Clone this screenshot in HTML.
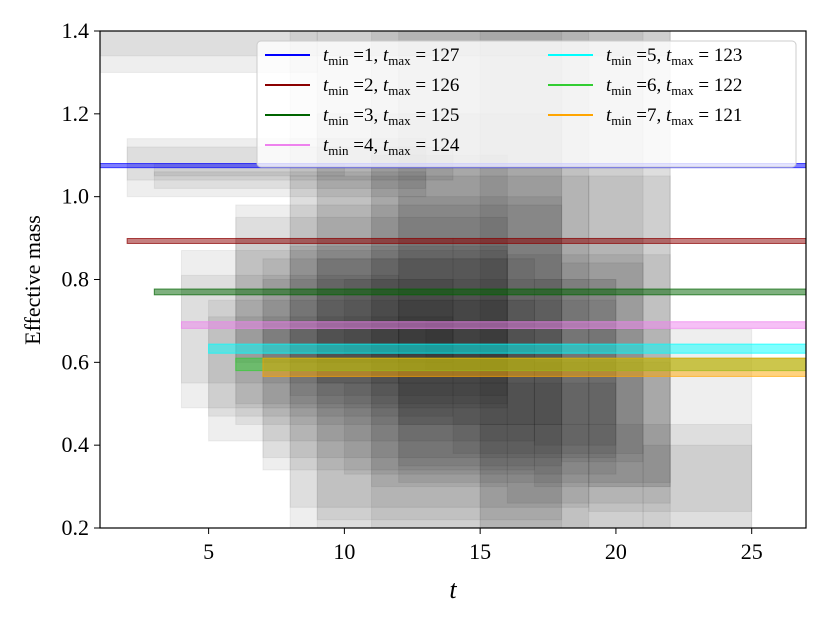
<!DOCTYPE html>
<html><head><meta charset="utf-8"><style>
html,body{margin:0;padding:0;background:#fff;}
svg{display:block;font-family:"Liberation Serif",serif;}
</style></head><body>
<svg id="chart" width="830" height="623" viewBox="0 0 830 623" xmlns="http://www.w3.org/2000/svg">
<defs><clipPath id="clip"><rect x="100" y="31" width="706" height="497"/></clipPath></defs>
<rect x="0" y="0" width="830" height="623" fill="#fff"/>
<g id="rects" clip-path="url(#clip)"></g>
<g id="bands" clip-path="url(#clip)"></g>
<rect x="100" y="31" width="706" height="497" fill="none" stroke="#000" stroke-width="1.2"/>
<g id="axes"></g>
<g id="legend"></g>
<text x="453" y="598" font-size="26" font-style="italic" text-anchor="middle">t</text>
<text transform="translate(40,280) rotate(-90)" font-size="22" text-anchor="middle">Effective mass</text>
</svg>
<script>
const xTicks=[5,10,15,20,25];
const yTicks=[0.2,0.4,0.6,0.8,1.0,1.2,1.4];
const yTickLabels=["0.2","0.4","0.6","0.8","1.0","1.2","1.4"];
const seriesTmin=[1,2,3,4,5,6,7];
const seriesTmax=[127,126,125,124,123,122,121];
const seriesValue=[1.075,0.893,0.770,0.690,0.633,0.595,0.588];
const seriesErr=[0.005,0.006,0.007,0.008,0.011,0.015,0.022];
const seriesColor=["#0000ff","#8b0000","#006400","#ee82ee","#00ffff","#32cd32","#ffa500"];
// gray boxes: t start, t end, y low, y high
const boxT0=[1,1,2,2,3,3,4,4,5,5,6,6,7,7,8,8,9,9,10,11,11,12,12,14,15,15,16,17,18,19,19,21,6,8,9,12,10,13,17,7];
const boxT1=[9,22,13,14,13,10,16,12,17,14,18,16,17,20,22,19,21,18,20,19,16,22,18,21,25,18,22,20,21,25,22,25,14,16,16,20,14,18,22,12];
const boxLo=[1.30,1.34,1.00,1.04,1.02,1.05,0.49,0.55,0.41,0.47,0.45,0.50,0.34,0.37,0.20,0.25,0.20,0.22,0.33,0.20,0.30,0.31,0.35,0.38,0.20,0.20,0.26,0.40,0.36,0.24,0.30,0.20,0.60,0.52,0.55,0.45,0.62,0.58,0.30,0.60];
const boxHi=[1.40,1.40,1.14,1.12,1.06,1.08,0.87,0.81,0.75,0.71,0.98,0.95,0.85,0.80,1.40,1.05,1.40,1.20,0.55,1.40,1.10,1.40,1.00,0.90,0.45,1.40,0.86,0.80,0.84,0.68,1.05,0.40,0.90,0.88,0.85,0.75,0.80,0.70,0.60,0.70];
const legendRows=[[0,1,2,3],[4,5,6]];

const X0=100,X1=806,Y0=528,Y1=31,TMIN=1,TMAX=27,VMIN=0.2,VMAX=1.4;
const sx=t=>X0+(t-TMIN)*(X1-X0)/(TMAX-TMIN);
const sy=v=>Y0-(v-VMIN)*(Y0-Y1)/(VMAX-VMIN);
const NS="http://www.w3.org/2000/svg";
function mk(tag,attrs,parent){const e=document.createElementNS(NS,tag);for(const k in attrs)e.setAttribute(k,attrs[k]);parent.appendChild(e);return e;}

const rg=document.getElementById('rects');
for(let i=0;i<boxT0.length;i++){
  const r=mk('rect',{x:sx(boxT0[i]),y:sy(boxHi[i]),width:sx(boxT1[i])-sx(boxT0[i]),height:sy(boxLo[i])-sy(boxHi[i]),fill:'rgba(0,0,0,0.065)',stroke:'rgba(0,0,0,0.06)','stroke-width':1},rg);
  
  
}
const bg=document.getElementById('bands');
for(let i=0;i<seriesValue.length;i++){
  const y1=sy(seriesValue[i]+seriesErr[i]),y2=sy(seriesValue[i]-seriesErr[i]);
  const b=mk('rect',{x:sx(seriesTmin[i]),y:y1,width:X1-sx(seriesTmin[i])+5,height:Math.max(2,y2-y1),fill:seriesColor[i],'fill-opacity':0.5,stroke:seriesColor[i],'stroke-opacity':0.7,'stroke-width':1},bg);
  
  
}
const ax=document.getElementById('axes');
xTicks.forEach(t=>{
  const l=mk('line',{x1:sx(t),x2:sx(t),y1:Y0,y2:Y0+6,stroke:'#000','stroke-width':1},ax);
  
  
  const tx=mk('text',{x:sx(t),y:559,'font-size':22,'text-anchor':'middle'},ax);tx.textContent=t;
  
  
});
yTicks.forEach((v,i)=>{
  const l=mk('line',{x1:X0-6,x2:X0,y1:sy(v),y2:sy(v),stroke:'#000','stroke-width':1},ax);
  
  
  const tx=mk('text',{x:89,y:sy(v)+7,'font-size':22,'text-anchor':'end'},ax);tx.textContent=yTickLabels[i];
  
  
});
const lg=document.getElementById('legend');
const box=mk('rect',{x:257,y:41,width:539,height:126,rx:4,fill:'rgba(255,255,255,0.8)',stroke:'#ccc','stroke-width':1},lg);


legendRows.forEach((col,c)=>{
  col.forEach((i,r)=>{
    const hx=c===0?265:548, ty=55+r*30;
    const ln=mk('line',{x1:hx,x2:hx+45,y1:ty,y2:ty,stroke:seriesColor[i],'stroke-width':2},lg);
    
    
    const t=mk('text',{x:hx+58,y:ty+6,'font-size':19},lg);
    t.innerHTML='<tspan font-style="italic">t</tspan><tspan font-size="13" dy="4">min</tspan><tspan dy="-4"> ='+seriesTmin[i]+', </tspan><tspan font-style="italic">t</tspan><tspan font-size="13" dy="4">max</tspan><tspan dy="-4"> = '+seriesTmax[i]+'</tspan>';
    
    
  });
});
</script>
</body></html>
